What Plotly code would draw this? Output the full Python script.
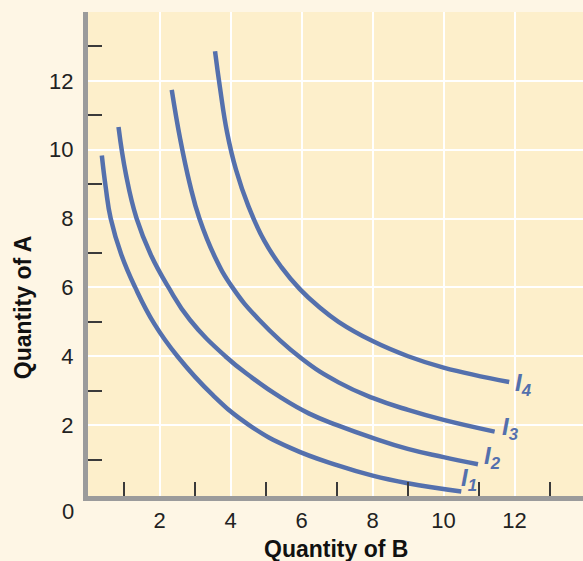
import plotly.graph_objects as go

# Indifference curves: quantity of B (x) against quantity of A (y)
i1_b = [0.37, 0.48, 0.62, 0.92, 1.31, 1.85, 2.50, 3.50, 4.52, 5.70, 7.04, 8.00, 8.99, 10.50]
i1_a = [9.83, 8.90, 8.00, 6.95, 6.00, 4.94, 4.00, 2.87, 2.00, 1.33, 0.82, 0.53, 0.31, 0.07]

i2_b = [0.84, 1.05, 1.35, 1.75, 2.25, 2.85, 3.85, 4.60, 5.40, 6.20, 7.00, 8.00, 8.99, 10.00, 10.97]
i2_a = [10.66, 9.28, 8.00, 6.95, 6.00, 5.06, 4.00, 3.38, 2.81, 2.34, 2.00, 1.63, 1.31, 1.07, 0.86]

i3_b = [2.34, 2.58, 2.85, 3.12, 3.55, 4.05, 4.80, 5.99, 7.04, 8.00, 9.00, 10.00, 11.44]
i3_a = [11.74, 10.30, 9.00, 8.00, 6.90, 6.00, 5.06, 3.94, 3.24, 2.79, 2.44, 2.15, 1.81]

i4_b = [3.56, 3.70, 3.90, 4.15, 4.50, 4.95, 5.43, 5.95, 6.47, 7.04, 8.00, 9.00, 10.00, 11.85]
i4_a = [12.86, 11.80, 10.50, 9.42, 8.36, 7.35, 6.59, 5.95, 5.45, 5.00, 4.44, 4.00, 3.67, 3.25]

curve_names = ["1", "2", "3", "4"]
curves = [(i1_b, i1_a), (i2_b, i2_a), (i3_b, i3_a), (i4_b, i4_a)]

label_ticks = [2, 4, 6, 8, 10, 12]
minor_ticks = [1, 3, 5, 7, 9, 11, 13]

CURVE = "#5470AD"
FONT = "Liberation Sans, Arial, sans-serif"

fig = go.Figure()
for (bx, ay), name in zip(curves, curve_names):
    fig.add_trace(go.Scatter(
        x=bx, y=ay, mode="lines",
        line=dict(color=CURVE, width=4.5, shape="spline", smoothing=1.3),
        hoverinfo="skip", name="I" + name,
    ))

# curve labels I1..I4 placed just past each curve's end
label_offsets = {"1": (-2, 12), "2": (4, 7), "3": (5, 3), "4": (4, -2)}
for (bx, ay), name in zip(curves, curve_names):
    dx, dy = label_offsets[name]
    fig.add_annotation(
        x=bx[-1], y=ay[-1], xref="x", yref="y",
        text="<b><i>I</i></b><sub><b><i>" + name + "</i></b></sub>",
        showarrow=False, xanchor="left", yanchor="middle",
        xshift=dx, yshift=dy,
        font=dict(family=FONT, size=24, color=CURVE),
    )

axis_common = dict(
    tickvals=label_ticks,
    ticks="",
    showgrid=True, gridcolor="#FFFFFF", gridwidth=1.5,
    showline=True, linecolor="#9B9B9B", linewidth=5,
    zeroline=False,
    tickfont=dict(family=FONT, size=22, color="#222222"),
    minor=dict(tickvals=minor_ticks, ticks="inside", ticklen=14,
               tickcolor="#3A3A3A", tickwidth=1.5, showgrid=False),
    fixedrange=True,
)

fig.update_xaxes(range=[-0.02, 13.93], ticklabelstandoff=1, **axis_common)
fig.update_yaxes(range=[-0.06, 14.0], ticklabelstandoff=5, **axis_common)

# origin label
fig.add_annotation(
    x=0, y=0, xref="paper", yref="paper", text="0", showarrow=False,
    xanchor="right", yanchor="middle", xshift=-12, yshift=-15,
    font=dict(family=FONT, size=22, color="#222222"),
)

# axis titles
fig.add_annotation(
    x=0.5, y=0, xref="paper", yref="paper", text="<b>Quantity of B</b>",
    showarrow=False, xanchor="center", yanchor="top", yshift=-38,
    font=dict(family=FONT, size=23, color="#111111"),
)
fig.add_annotation(
    x=0, y=0.39, xref="paper", yref="paper", text="<b>Quantity of A</b>",
    showarrow=False, textangle=-90, xanchor="center", yanchor="middle",
    xshift=-65,
    font=dict(family=FONT, size=23, color="#111111"),
)

fig.update_layout(
    width=583, height=561,
    margin=dict(l=88, r=0, t=12, b=65),
    paper_bgcolor="#FEF6E5",
    plot_bgcolor="#FDEFCB",
    showlegend=False,
)

fig.write_html("out.html")
